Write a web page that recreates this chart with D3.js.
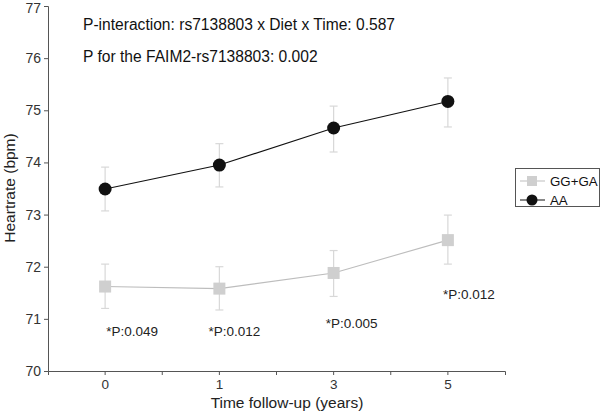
<!DOCTYPE html>
<html><head><meta charset="utf-8">
<script src="https://cdn.jsdelivr.net/npm/d3@7"></script>
<style>body{margin:0;background:#fff}svg{display:block}text{font-family:"Liberation Sans",Arial,sans-serif}</style>
</head><body><svg id="c" width="600" height="413"></svg>
<script>
const categories = ["0","1","3","5"];
const ggMean = [71.62, 71.58, 71.88, 72.51];
const ggLow  = [71.20, 71.17, 71.43, 72.05];
const ggHigh = [72.05, 72.00, 72.31, 72.99];
const aaMean = [73.49, 73.95, 74.66, 75.17];
const aaLow  = [73.07, 73.53, 74.20, 74.68];
const aaHigh = [73.91, 74.36, 75.08, 75.62];
const pLabels = ["*P:0.049","*P:0.012","*P:0.005","*P:0.012"];
const pLabelY = [70.68, 70.68, 70.83, 71.38];
const yTicks = [70,71,72,73,74,75,76,77];

const svg = d3.select("#c");
const x = d3.scaleBand().domain(categories).range([48,505]);
const y = d3.scaleLinear().domain([70,77]).range([371,6]);
const cx = d => x(d) + x.bandwidth()/2;
const axisCol = "#555";

// y axis
const ya = svg.append("g").attr("transform","translate(48,0)")
  .call(d3.axisLeft(y).tickValues(yTicks).tickSize(4).tickPadding(3).tickFormat(d3.format("d")));
ya.select(".domain").attr("stroke",axisCol);
ya.selectAll(".tick line").attr("stroke",axisCol);
ya.selectAll("text").attr("font-size",14).attr("fill","#333");
ya.selectAll(".tick").filter(d=>d===77).select("text").attr("dy","0.45em");

// x axis
const xa = svg.append("g").attr("transform","translate(0,371)")
  .call(d3.axisBottom(x).tickSize(4).tickPadding(4).tickSizeOuter(4));
xa.select(".domain").attr("stroke",axisCol);
xa.selectAll(".tick line").attr("stroke",axisCol);
xa.selectAll("text").attr("font-size",13.5).attr("fill","#333");
// minor ticks at band boundaries
xa.selectAll(".minor").data(categories.slice(1)).enter().append("line")
  .attr("x1",d=>x(d)).attr("x2",d=>x(d)).attr("y1",0).attr("y2",4).attr("stroke",axisCol);

// labels
svg.append("text").attr("x",287).attr("y",408).attr("text-anchor","middle").attr("font-size",15.5).attr("fill","#222").text("Time follow-up (years)");
svg.append("text").attr("transform","translate(15,188) rotate(-90)").attr("text-anchor","middle").attr("font-size",15.5).attr("fill","#222").text("Heartrate (bpm)");

svg.append("text").attr("x",83).attr("y",30).attr("font-size",15.6).attr("fill","#111").text("P-interaction: rs7138803 x Diet x Time: 0.587");
svg.append("text").attr("x",83).attr("y",62).attr("font-size",15.6).attr("fill","#111").text("P for the FAIM2-rs7138803: 0.002");

function series(mean, low, high, color, lineColor, marker){
  const g = svg.append("g");
  const errCol = "#d8d8d8";
  categories.forEach((c,i)=>{
    g.append("line").attr("x1",cx(c)).attr("x2",cx(c)).attr("y1",y(low[i])).attr("y2",y(high[i])).attr("stroke",errCol).attr("stroke-width",1.2);
    [low[i],high[i]].forEach(v=>g.append("line").attr("x1",cx(c)-4).attr("x2",cx(c)+4).attr("y1",y(v)).attr("y2",y(v)).attr("stroke",errCol).attr("stroke-width",1.2));
  });
  g.append("path").datum(mean).attr("fill","none").attr("stroke",lineColor).attr("stroke-width",1.1)
    .attr("d",d3.line().x((d,i)=>cx(categories[i])).y(d=>y(d)));
  categories.forEach((c,i)=>{
    if(marker==="square") g.append("rect").attr("x",cx(c)-6).attr("y",y(mean[i])-6).attr("width",12).attr("height",12).attr("fill",color);
    else g.append("circle").attr("cx",cx(c)).attr("cy",y(mean[i])).attr("r",6.5).attr("fill",color);
  });
}
series(ggMean, ggLow, ggHigh, "#cfcfcf", "#bdbdbd", "square");
series(aaMean, aaLow, aaHigh, "#111", "#111", "circle");

svg.selectAll(".plab").data(pLabels).enter().append("text")
  .attr("x",(d,i)=>cx(categories[i])+ (i===1? -11 : (i===2? -8 : (i===3? -5 : 1))))
  .attr("y",(d,i)=>y(pLabelY[i])).attr("font-size",13.5).attr("fill","#222").text(d=>d);

// legend
const lg = svg.append("g");
lg.append("rect").attr("x",515.5).attr("y",168.5).attr("width",84).attr("height",38).attr("fill","#fff").attr("stroke","#555");
lg.append("line").attr("x1",520).attr("x2",545).attr("y1",181).attr("y2",181).attr("stroke","#bdbdbd");
lg.append("rect").attr("x",527).attr("y",176).attr("width",10).attr("height",10).attr("fill","#cfcfcf");
lg.append("text").attr("x",550).attr("y",186).attr("font-size",13.3).attr("fill","#111").text("GG+GA");
lg.append("line").attr("x1",520).attr("x2",545).attr("y1",200).attr("y2",200).attr("stroke","#111");
lg.append("circle").attr("cx",532).attr("cy",200).attr("r",5.5).attr("fill","#111");
lg.append("text").attr("x",550).attr("y",205).attr("font-size",13.3).attr("fill","#111").text("AA");
</script></body></html>
